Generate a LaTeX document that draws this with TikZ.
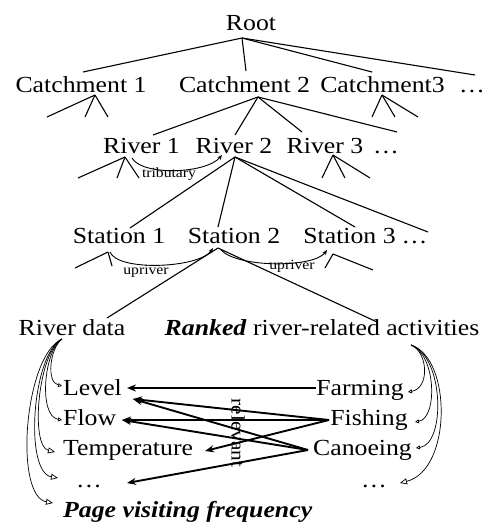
\documentclass[tikz,border=0pt]{standalone}
\usepackage{fontspec}
\setmainfont{Liberation Serif}[FakeStretch=1.12]
\usetikzlibrary{arrows.meta}
\begin{document}
\begin{tikzpicture}[x=1pt,y=-1pt,
  lbl/.style={anchor=base, inner sep=0pt, font=\fontsize{23}{26}\selectfont},
  lblw/.style={anchor=base west, inner sep=0pt, font=\fontsize{23}{26}\selectfont},
  small/.style={inner sep=0pt, font=\fontsize{14}{16}\selectfont},
  edge/.style={line width=1.1pt},
  arc/.style={line width=0.9pt, -{Stealth[length=5pt,width=4pt]}},
  rel/.style={line width=1.9pt, -{Stealth[length=9pt,width=7pt]}},
  fan/.style={line width=0.7pt},
  opensmall/.style={fan, -{Triangle[open,length=4pt,width=4pt]}},
  openbig/.style={fan, -{Triangle[open,length=7pt,width=6pt]}}
]
\useasboundingbox (0,0) rectangle (489,522);

% ---- text nodes ----
\node[lbl] (root) at (251,30) {Root};
\node[lbl] (c1) at (81,92) {Catchment 1};
\node[lbl] (c2) at (244.5,92) {Catchment 2};
\node[lbl] (c3) at (382.5,92) {Catchment3};
\node[lbl] (cd) at (472,92) {…};
\node[lbl] (r1) at (141.5,153) {River 1};
\node[lbl] (r2) at (234,153) {River 2};
\node[lbl] (r3) at (325,153) {River 3};
\node[lbl] (rd) at (386,153) {…};
\node[lbl] (s1) at (119,243) {Station 1};
\node[lbl] (s2) at (234,243) {Station 2};
\node[lbl] (s3) at (349.5,243) {Station 3};
\node[lbl] (sd) at (414.5,243) {…};
\node[lbl] (data) at (72,335) {River data};
\node[lbl] (act) at (322,335) {\textbf{\textit{Ranked}} river-related activities};
\node[lblw] (level) at (63,395) {Level};
\node[lblw] (flow) at (63,425) {Flow};
\node[lblw] (temp) at (63,455) {Temperature};
\node[lbl] (ddots) at (89,487) {…};
\node[lblw] (page) at (63,517) {\textbf{\textit{Page visiting frequency}}};
\node[lbl] (farm) at (360,395) {Farming};
\node[lbl] (fish) at (369,425) {Fishing};
\node[lbl] (cano) at (362.5,455) {Canoeing};
\node[lbl] (adots) at (374,487) {…};
\node[small] (trib) at (169,174) {tributary};
\node[small] (up1) at (146,271) {upriver};
\node[small] (up2) at (292,266) {upriver};
\node[inner sep=0pt, rotate=-90, font=\fontsize{19}{21}\selectfont] (relv) at (238,433) {relevant};

% ---- junction and end points ----
\coordinate (rootJ) at (242,38);
\coordinate (c1T) at (83,72);
\coordinate (c2T) at (246,71);
\coordinate (c3T) at (372,72);
\coordinate (cdT) at (475,75);
\coordinate (c1J) at (95,95);
\coordinate (c1a) at (47,117);
\coordinate (c1b) at (85,117);
\coordinate (c1c) at (108,117);
\coordinate (c2J) at (258,97);
\coordinate (r1T) at (153,135);
\coordinate (r2T) at (235,135);
\coordinate (r3T) at (302,132);
\coordinate (rdT) at (397,132);
\coordinate (c3J) at (382,95);
\coordinate (c3a) at (372,117);
\coordinate (c3b) at (395,117);
\coordinate (c3c) at (418,117);
\coordinate (r1J) at (125,157);
\coordinate (r1a) at (78,178);
\coordinate (r1b) at (117,178);
\coordinate (r1c) at (139,178);
\coordinate (r2J) at (235,157);
\coordinate (s1T) at (130,228);
\coordinate (s2T) at (218,227);
\coordinate (s3T) at (355,227);
\coordinate (sdT) at (428,232);
\coordinate (r3J) at (333,155);
\coordinate (r3a) at (322,178);
\coordinate (r3b) at (345,178);
\coordinate (r3c) at (370,178);
\coordinate (s1J) at (108,252);
\coordinate (s1a) at (75,268);
\coordinate (s1b) at (112,266);
\coordinate (s2J) at (218,248);
\coordinate (dataT) at (107,318);
\coordinate (actT) at (377,322);
\coordinate (s3J) at (333,254);
\coordinate (s3a) at (325,268);
\coordinate (s3b) at (373,270);

% ---- tree edges ----
\foreach \t in {c1T,c2T,c3T,cdT} \draw[edge] (rootJ) -- (\t);
\foreach \t in {c1a,c1b,c1c} \draw[edge] (c1J) -- (\t);
\foreach \t in {r1T,r2T,r3T,rdT} \draw[edge] (c2J) -- (\t);
\foreach \t in {c3a,c3b,c3c} \draw[edge] (c3J) -- (\t);
\foreach \t in {r1a,r1b,r1c} \draw[edge] (r1J) -- (\t);
\foreach \t in {s1T,s2T,s3T,sdT} \draw[edge] (r2J) -- (\t);
\foreach \t in {r3a,r3b,r3c} \draw[edge] (r3J) -- (\t);
\foreach \t in {s1a,s1b} \draw[edge] (s1J) -- (\t);
\foreach \t in {dataT,actT} \draw[edge] (s2J) -- (\t);
\foreach \t in {s3a,s3b} \draw[edge] (s3J) -- (\t);

% ---- arcs ----
\coordinate (trS) at (132,158);
\coordinate (trE) at (222,155);
\draw[arc] (trS) .. controls (142,176) and (206,174) .. (trE);
\coordinate (u1S) at (110,252);
\coordinate (u1E) at (213,248);
\coordinate (u2S) at (221,250);
\coordinate (u2E) at (327,250);
\draw[arc] (u1S) .. controls (118,272) and (200,268) .. (u1E);
\draw[arc] (u2S) .. controls (238,268) and (314,268) .. (u2E);

% ---- left fan ----
\coordinate (dataB) at (62,339);
\coordinate (levL) at (62,386);
\coordinate (flowL) at (62,420);
\coordinate (tempL) at (55,452);
\coordinate (ddL) at (58,478);
\coordinate (pageL) at (53,503);
\draw[opensmall] (dataB) .. controls (50,348) and (46,382) .. (levL);
\draw[opensmall] (dataB) .. controls (44,350) and (38,416) .. (flowL);
\draw[openbig] (dataB) .. controls (38,352) and (30,446) .. (tempL);
\draw[openbig] (dataB) .. controls (32,354) and (24,472) .. (ddL);
\draw[openbig] (dataB) .. controls (24,356) and (14,496) .. (pageL);

% ---- right fan ----
\coordinate (actB) at (411,345);
\coordinate (farmR) at (408,392);
\coordinate (fishR) at (415,422);
\coordinate (canoR) at (416,448);
\coordinate (adR) at (400,483);
\draw[opensmall] (actB) .. controls (428,352) and (430,388) .. (farmR);
\draw[opensmall] (actB) .. controls (436,354) and (438,418) .. (fishR);
\draw[opensmall] (actB) .. controls (444,356) and (446,444) .. (canoR);
\draw[openbig] (actB) .. controls (452,358) and (452,470) .. (adR);

% ---- relevant arrows ----
\coordinate (farmW) at (316,388);
\coordinate (fishW) at (329,420);
\coordinate (canoW) at (308,450);
\coordinate (levA) at (127,388);
\coordinate (levB) at (133,399);
\coordinate (flowA) at (122,420);
\coordinate (tempA) at (205,451);
\coordinate (ddA) at (127,483);
\draw[rel] (farmW) -- (levA);
\draw[rel] (fishW) -- (levB);
\draw[rel] (canoW) -- (levB);
\draw[rel] (fishW) -- (flowA);
\draw[rel] (canoW) -- (flowA);
\draw[rel] (fishW) -- (tempA);
\draw[rel] (canoW) -- (ddA);
\end{tikzpicture}
\end{document}
